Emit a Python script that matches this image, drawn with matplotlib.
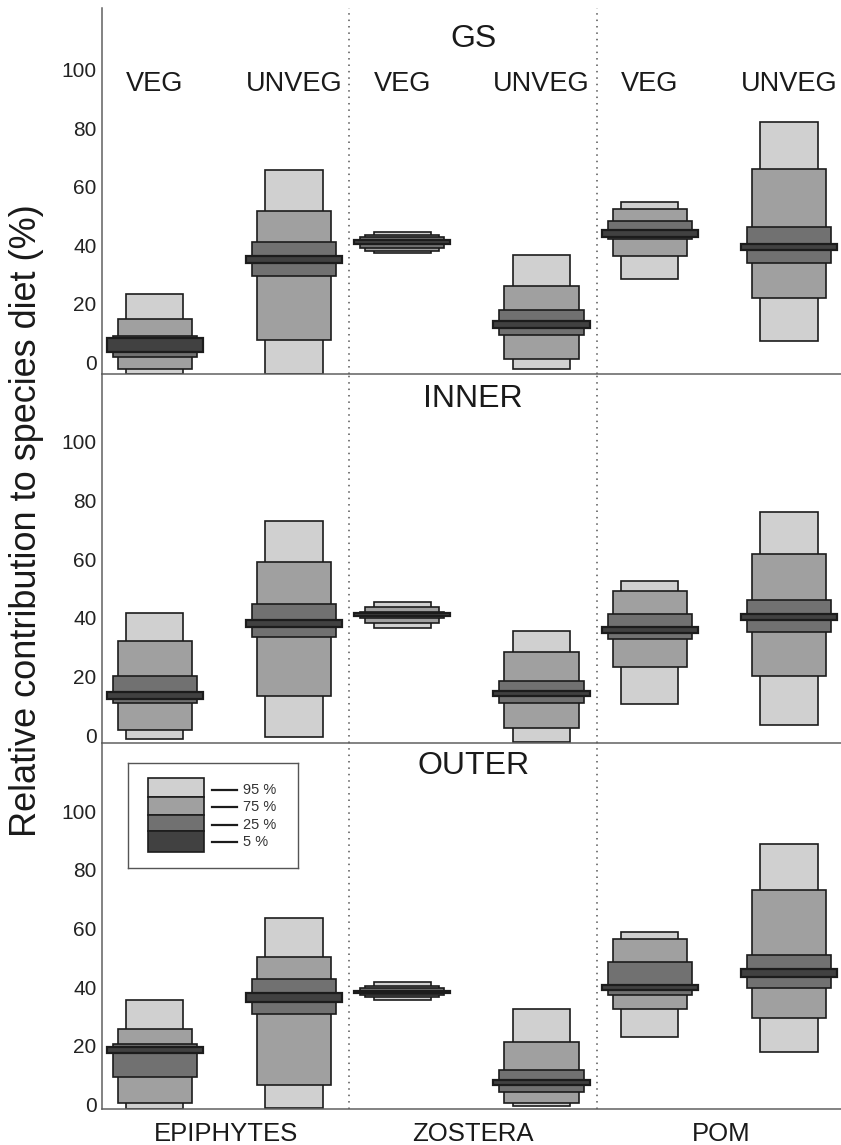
import numpy as np
import matplotlib.pyplot as plt

plt.rcParams['font.family'] = ['Liberation Sans', 'DejaVu Sans']

sites = ['GS', 'INNER', 'OUTER']
sources = ['EPIPHYTES', 'ZOSTERA', 'POM']
habitats = ['VEG', 'UNVEG']
levels = ['95 %', '75 %', '25 %', '5 %']

# order: EPI VEG, EPI UNVEG, ZOS VEG, ZOS UNVEG, POM VEG, POM UNVEG  (low, high) in %
gs_95 = [(-4.0, 23.3), (-4.0, 65.8), (37.2, 44.6), (-2.5, 36.5), (28.5, 54.8), (7.1, 82.1)]
gs_75 = [(-2.5, 14.6), (7.5, 51.7), (38.0, 43.5), (0.9, 26.1), (36.3, 52.5), (21.8, 66.2)]
gs_25 = [(1.6, 8.9), (29.5, 40.9), (38.9, 42.7), (9.2, 17.8), (42.0, 48.4), (33.8, 46.3)]
gs_5 = [(3.3, 8.1), (33.8, 36.4), (40.4, 41.8), (11.7, 14.0), (42.6, 45.1), (38.3, 40.3)]

inner_95 = [(-1.4, 41.7), (-0.6, 73.1), (36.6, 45.5), (-2.5, 35.6), (10.7, 52.7), (3.5, 75.9)]
inner_75 = [(1.7, 32.0), (13.3, 59.0), (38.3, 43.8), (2.5, 28.4), (23.3, 49.0), (20.2, 61.6)]
inner_25 = [(11.1, 20.3), (33.5, 44.6), (40.0, 42.0), (10.8, 18.4), (32.6, 41.4), (35.2, 46.0)]
inner_5 = [(12.3, 14.8), (36.9, 39.2), (40.6, 41.5), (13.5, 15.1), (34.9, 36.7), (39.1, 41.3)]

outer_95 = [(-1.6, 35.6), (-1.4, 63.4), (35.6, 41.6), (-0.5, 32.4), (23.1, 58.8), (17.9, 88.9)]
outer_75 = [(0.6, 25.8), (6.6, 50.2), (36.5, 40.4), (0.3, 21.1), (32.5, 56.4), (29.5, 73.1)]
outer_25 = [(9.2, 20.4), (30.8, 42.7), (37.3, 39.5), (4.1, 11.7), (37.4, 48.4), (39.5, 50.9)]
outer_5 = [(17.4, 19.4), (35.0, 37.8), (37.8, 38.7), (6.5, 8.2), (39.0, 40.7), (43.3, 46.0)]

site_data = [[gs_95, gs_75, gs_25, gs_5],
             [inner_95, inner_75, inner_25, inner_5],
             [outer_95, outer_75, outer_25, outer_5]]

colors = ['#d0d0d0', '#a0a0a0', '#717171', '#414141']
widths = [0.231, 0.300, 0.340, 0.389]
edge_lw = [1.2, 1.2, 1.2, 1.6]
offsets = [0.213, 0.776]

ylims = [(-4.2, 121.1), (-2.8, 123.0), (-1.7, 123.1)]
title_y = [110.6, 114.6, 115.4]
bottoms = [0.6731, 0.3508, 0.0312]
tops = [0.993, 0.6731, 0.3508]

fig = plt.figure(figsize=(8.41, 11.45), dpi=100)

xpos = np.array([g + off for g in range(len(sources)) for off in offsets])

for i, site in enumerate(sites):
    ax = fig.add_axes([0.1213, bottoms[i], 1 - 0.1213, tops[i] - bottoms[i]])
    ax.patch.set_visible(False)
    for k in range(4):
        lo = np.array([b[0] for b in site_data[i][k]])
        hi = np.array([b[1] for b in site_data[i][k]])
        ax.bar(xpos, hi - lo, bottom=lo, width=widths[k], color=colors[k],
               edgecolor='#1c1c1c', linewidth=edge_lw[k], zorder=2 + k)
    for g in [1, 2]:
        ax.axvline(g, color='#555555', lw=1.1, ls=(0, (1, 3.2)), zorder=1)
    ax.set_xlim(0, 2.986)
    ax.set_ylim(*ylims[i])
    ax.set_yticks([0, 20, 40, 60, 80, 100])
    ax.tick_params(axis='y', length=0, pad=3.8, labelsize=15, labelcolor='#222222')
    for s in ['top', 'right']:
        ax.spines[s].set_visible(False)
    for s in ['left', 'bottom']:
        ax.spines[s].set_color('#606060')
        ax.spines[s].set_linewidth(1.1)
        ax.spines[s].set_zorder(10)
    ax.text(1.5, title_y[i], site, ha='center', va='center', fontsize=23, color='#1a1a1a')
    if i == 0:
        for x, h in zip(xpos, habitats * len(sources)):
            ax.text(x, 95, h, ha='center', va='center', fontsize=19.5, color='#1a1a1a')
    if i == 2:
        ax.set_xticks([0.5, 1.5, 2.5])
        ax.set_xticklabels(sources)
        ax.tick_params(axis='x', length=0, pad=9, labelsize=18.5, labelcolor='#1a1a1a')
    else:
        ax.set_xticks([])

# legend box
lg = fig.add_axes([128 / 841, 1 - 868 / 1145, 170 / 841, 105 / 1145])
lg.set_xlim(0, 170)
lg.set_ylim(105, 0)
lg.set_xticks([])
lg.set_yticks([])
for s in lg.spines.values():
    s.set_color('#555555')
    s.set_linewidth(1.0)
row_top = [14.7, 34.3, 52.0, 68.0]
row_bot = [34.3, 52.0, 68.0, 88.7]
line_y = [27.0, 44.3, 61.7, 78.7]
for k in range(4):
    lg.bar(48.3, row_bot[k] - row_top[k], bottom=row_top[k], width=56, color=colors[k],
           edgecolor='#1c1c1c', linewidth=1.2)
    lg.plot([84, 108.7], [line_y[k], line_y[k]], color='#1c1c1c', lw=1.6)
    lg.text(115, line_y[k], levels[k], ha='left', va='center', fontsize=10.5, color='#333333')

fig.text(26.7 / 841, 1 - 521 / 1145, 'Relative contribution to species diet (%)',
         rotation=90, ha='center', va='center', fontsize=26, color='#1a1a1a')

fig.savefig('out.png', dpi=100)
